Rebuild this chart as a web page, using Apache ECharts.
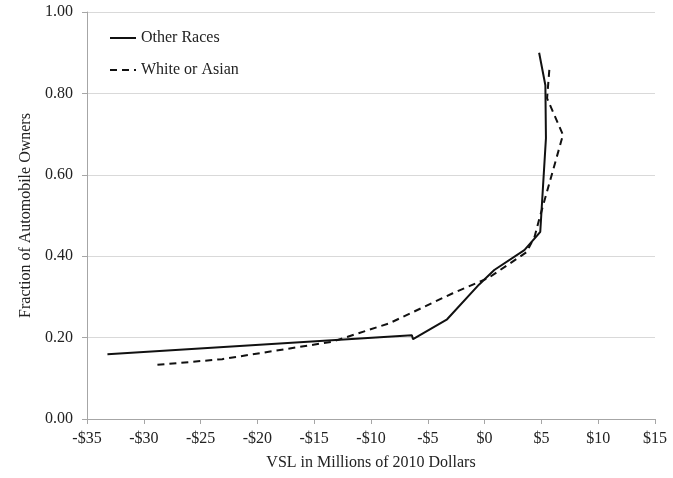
<!DOCTYPE html>
<html>
<head>
<meta charset="utf-8">
<script src="https://cdn.jsdelivr.net/npm/echarts@6/dist/echarts.min.js"></script>
<style>
html,body{margin:0;padding:0;background:#fff;}
#chart{width:673px;height:478px;}
</style>
</head>
<body>
<div id="chart"></div>
<script>
// VSL (millions of 2010 dollars) vs fraction of automobile owners
const seriesNames = ["Other Races", "White or Asian"];
const otherRacesVSL = [-33.2, -6.4, -6.3, -3.3, -0.5, 0.85, 3.5, 4.6, 4.9, 5.4, 5.35, 4.8];
const otherRacesFrac = [0.159, 0.206, 0.196, 0.245, 0.33, 0.366, 0.415, 0.45, 0.46, 0.69, 0.82, 0.90];
const whiteAsianVSL = [-28.8, -23.1, -13.4, -8.4, -2.8, 0.3, 3.7, 4.4, 4.8, 6.9, 5.5, 5.7];
const whiteAsianFrac = [0.133, 0.147, 0.19, 0.235, 0.309, 0.346, 0.41, 0.448, 0.49, 0.698, 0.788, 0.859];
const xTicks = {min: -35, max: 15, step: 5};
const yTicks = {min: 0, max: 1, step: 0.2};

const pair = (xs, ys) => xs.map((x, i) => [x, ys[i]]);
const font = "Liberation Serif";

const chart = echarts.init(document.getElementById('chart'), null, {renderer: 'canvas'});
chart.setOption({
  backgroundColor: '#fff',
  animation: false,
  textStyle: {fontFamily: font},
  grid: {left: 87, right: 18, top: 12, bottom: 59, containLabel: false},
  legend: {
    orient: 'vertical', left: 104, top: 25, itemGap: 16,
    itemWidth: 26, itemHeight: 14,
    itemStyle: {opacity: 0},
    textStyle: {fontFamily: font, fontSize: 16, color: '#222'},
    data: seriesNames
  },
  xAxis: {
    type: 'value', min: xTicks.min, max: xTicks.max, interval: xTicks.step,
    name: 'VSL in Millions of 2010 Dollars', nameLocation: 'middle', nameGap: 36,
    nameTextStyle: {fontFamily: font, fontSize: 16, color: '#222'},
    axisLine: {show: true, onZero: false, lineStyle: {color: '#a6a6a6', width: 1}},
    axisTick: {show: true, length: 5, lineStyle: {color: '#a6a6a6'}},
    axisLabel: {fontFamily: font, fontSize: 16, color: '#222', margin: 12,
      formatter: v => (v < 0 ? '-$' + Math.abs(v) : '$' + v)},
    splitLine: {show: false}
  },
  yAxis: {
    type: 'value', min: yTicks.min, max: yTicks.max, interval: yTicks.step,
    name: 'Fraction of Automobile Owners', nameLocation: 'middle', nameGap: 53,
    nameTextStyle: {fontFamily: font, fontSize: 16, color: '#222'},
    axisLine: {show: true, onZero: false, lineStyle: {color: '#a6a6a6', width: 1}},
    axisTick: {show: true, length: 5, lineStyle: {color: '#a6a6a6'}},
    axisLabel: {fontFamily: font, fontSize: 16, color: '#222', margin: 14,
      formatter: v => v.toFixed(2)},
    splitLine: {show: true, lineStyle: {color: '#d9d9d9', width: 1}}
  },
  series: [
    {
      name: seriesNames[0], type: 'line', data: pair(otherRacesVSL, otherRacesFrac),
      showSymbol: false, symbol: 'none',
      lineStyle: {color: '#111', width: 2, type: 'solid'},
      itemStyle: {color: '#111'}
    },
    {
      name: seriesNames[1], type: 'line', data: pair(whiteAsianVSL, whiteAsianFrac),
      showSymbol: false, symbol: 'none',
      lineStyle: {color: '#111', width: 2, type: [7, 5]},
      itemStyle: {color: '#111'}
    }
  ]
});
</script>
</body>
</html>
